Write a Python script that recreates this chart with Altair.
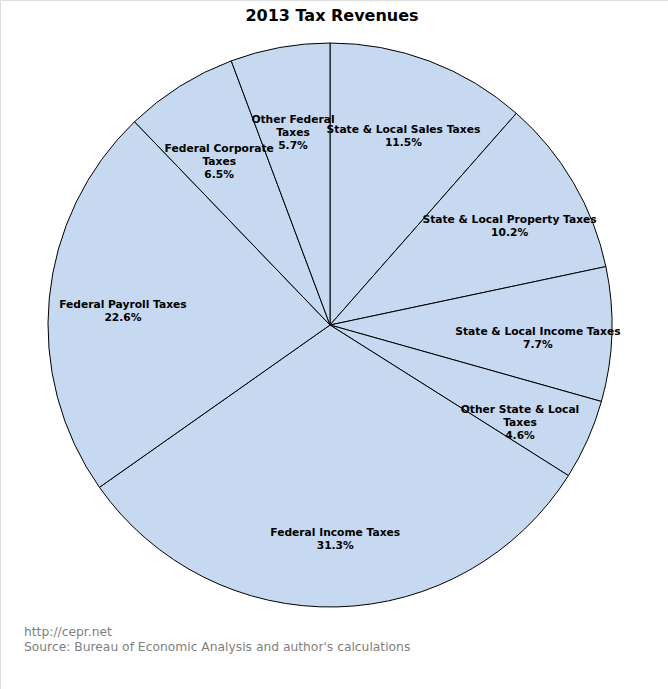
import altair as alt
import pandas as pd

categories = [
    "State & Local Sales Taxes",
    "State & Local Property Taxes",
    "State & Local Income Taxes",
    "Other State & Local\nTaxes",
    "Federal Income Taxes",
    "Federal Payroll Taxes",
    "Federal Corporate\nTaxes",
    "Other Federal\nTaxes",
]
shares = [11.5, 10.2, 7.7, 4.6, 31.3, 22.6, 6.5, 5.7]

df = pd.DataFrame({
    "category": categories,
    "share": shares,
    "idx": list(range(len(categories))),
})
df["label"] = [f"{c}\n{s:.1f}%" for c, s in zip(categories, shares)]

W, H = 668, 689
CX, CY, R = 330, 325, 282
FONT = "DejaVu Sans"

base = alt.Chart(df).encode(
    theta=alt.Theta("share:Q", stack=True),
    order=alt.Order("idx:Q"),
    x=alt.value(CX),
    y=alt.value(CY),
)

pie = base.mark_arc(outerRadius=R, fill="#c6d9f1", stroke="#000000", strokeWidth=1)

labels = base.mark_text(
    radius=208, font=FONT, fontSize=10.7, fontWeight="bold", color="#000000",
    lineBreak="\n", align="center", baseline="middle", lineHeight=13,
).encode(text="label:N")

title_df = pd.DataFrame({"t": ["2013 Tax Revenues"]})
title = alt.Chart(title_df).mark_text(
    font=FONT, fontSize=16, fontWeight="bold", color="#000000",
    align="center", baseline="middle",
).encode(text="t:N", x=alt.value(332), y=alt.value(16))

foot_df = pd.DataFrame({"t": ["http://cepr.net\nSource: Bureau of Economic Analysis and author's calculations"]})
footer = alt.Chart(foot_df).mark_text(
    font=FONT, fontSize=12.3, color="#7f7f7f", align="left", baseline="top",
    lineBreak="\n", lineHeight=15,
).encode(text="t:N", x=alt.value(24), y=alt.value(626))

chart = alt.layer(pie, labels, title, footer).properties(
    width=W, height=H,
    autosize=alt.AutoSizeParams(type="none"),
    padding=0,
).configure_view(stroke=None).configure(background="#ffffff")

chart.save("out.html", embed_options={"renderer": "svg", "actions": False})
